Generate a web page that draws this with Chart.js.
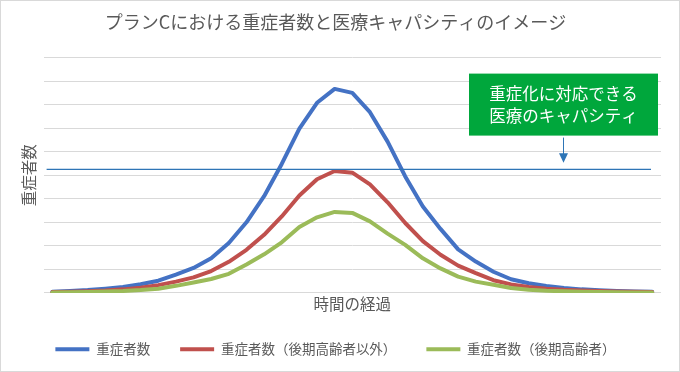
<!DOCTYPE html>
<html>
<head>
<meta charset="utf-8">
<script src="https://cdn.jsdelivr.net/npm/chart.js@4/dist/chart.umd.min.js"></script>
<style>
  html, body { margin: 0; padding: 0; background: #ffffff; }
  #wrap { width: 680px; height: 372px; }
  canvas { display: block; }
</style>
</head>
<body>
<div id="wrap"><canvas id="c" width="680" height="372"></canvas></div>
<script>
const chartTitle = 'プランCにおける重症者数と医療キャパシティのイメージ';
const yAxisTitle = '重症者数';
const xAxisTitle = '時間の経過';
const seriesNames = ['重症者数', '重症者数（後期高齢者以外）', '重症者数（後期高齢者）'];
const calloutLines = ['重症化に対応できる', '医療のキャパシティ'];

const categories = ['1','2','3','4','5','6','7','8','9','10','11','12','13','14','15','16','17','18','19','20','21','22','23','24','25','26','27','28','29','30','31','32','33','34','35'];

const totalSevere = [0.05, 0.08, 0.12, 0.18, 0.25, 0.37, 0.52, 0.78, 1.06, 1.47, 2.12, 3.00, 4.11, 5.48, 6.98, 8.08, 8.67, 8.50, 7.68, 6.43, 4.95, 3.67, 2.72, 1.85, 1.33, 0.90, 0.58, 0.41, 0.29, 0.21, 0.15, 0.11, 0.08, 0.06, 0.05];
const nonElderlySevere = [0.04, 0.05, 0.07, 0.10, 0.15, 0.22, 0.33, 0.48, 0.66, 0.93, 1.32, 1.83, 2.47, 3.25, 4.14, 4.83, 5.18, 5.11, 4.61, 3.85, 2.97, 2.20, 1.62, 1.16, 0.84, 0.54, 0.36, 0.25, 0.18, 0.13, 0.10, 0.08, 0.06, 0.05, 0.04];
const elderlySevere = [0.02, 0.03, 0.04, 0.06, 0.08, 0.12, 0.18, 0.30, 0.44, 0.59, 0.81, 1.21, 1.64, 2.15, 2.80, 3.21, 3.44, 3.40, 3.04, 2.52, 2.04, 1.47, 1.04, 0.69, 0.48, 0.35, 0.21, 0.13, 0.09, 0.07, 0.05, 0.04, 0.03, 0.02, 0.02];

const capacityLevel = 5.25;
const yMin = 0, yMax = 10, yStep = 1;

const FONT = "'Noto Sans CJK JP', 'Noto Sans', sans-serif";
const TEXT = '#595959';
const GRID = '#d9d9d9';

Chart.defaults.font.family = FONT;
Chart.defaults.color = TEXT;

const overlayPlugin = {
  id: 'overlay',
  afterDatasetsDraw(chart) {
    const ctx = chart.ctx;
    const area = chart.chartArea;
    const ys = chart.scales.y;
    const capY = ys.getPixelForValue(capacityLevel);
    ctx.save();
    // capacity line
    ctx.strokeStyle = '#2E75B6';
    ctx.lineWidth = 1.25;
    ctx.beginPath();
    ctx.moveTo(area.left + 3, capY);
    ctx.lineTo(area.right - 10, capY);
    ctx.stroke();
    // callout box
    const bx = area.right - 192, by = area.top + 16, bw = 189, bh = 62;
    ctx.fillStyle = '#00A73C';
    ctx.fillRect(bx, by, bw, bh);
    ctx.fillStyle = '#ffffff';
    ctx.font = '16.5px ' + FONT;
    ctx.textAlign = 'center';
    ctx.textBaseline = 'middle';
    const cx = bx + bw / 2;
    ctx.fillText(calloutLines[0], cx, by + 20.5);
    ctx.fillText(calloutLines[1], cx, by + 42);
    // arrow
    const ax = bx + 94.5;
    ctx.strokeStyle = '#2E75B6';
    ctx.fillStyle = '#2E75B6';
    ctx.lineWidth = 1;
    ctx.beginPath();
    ctx.moveTo(ax, by + bh + 2);
    ctx.lineTo(ax, capY - 14);
    ctx.stroke();
    ctx.beginPath();
    ctx.moveTo(ax - 4.5, capY - 16);
    ctx.lineTo(ax + 4.5, capY - 16);
    ctx.lineTo(ax, capY - 6.5);
    ctx.closePath();
    ctx.fill();
    ctx.restore();
  },
  afterDraw(chart) {
    const ctx = chart.ctx;
    ctx.save();
    ctx.strokeStyle = GRID;
    ctx.lineWidth = 1;
    ctx.strokeRect(0.5, 0.5, chart.width - 1, chart.height - 1);
    ctx.restore();
  }
};

const mk = (label, data, color, order) => ({
  label, data,
  borderColor: color,
  backgroundColor: color,
  borderWidth: 4,
  borderCapStyle: 'round',
  borderJoinStyle: 'round',
  pointRadius: 0,
  pointHoverRadius: 0,
  tension: 0,
  fill: false,
  order
});

new Chart(document.getElementById('c'), {
  type: 'line',
  data: {
    labels: categories,
    datasets: [
      mk(seriesNames[0], totalSevere, '#4472C4', 2),
      mk(seriesNames[1], nonElderlySevere, '#C0504D', 1),
      mk(seriesNames[2], elderlySevere, '#9BBB59', 0)
    ]
  },
  options: {
    responsive: false,
    animation: false,
    events: [],
    layout: { padding: { left: 10, right: 19, top: 0, bottom: 6 } },
    plugins: {
      title: {
        display: true,
        text: chartTitle,
        color: TEXT,
        font: { size: 18, weight: 'normal', family: FONT },
        padding: { top: 11, bottom: 25 }
      },
      legend: {
        position: 'bottom',
        labels: {
          color: TEXT,
          font: { size: 13.5, family: FONT },
          usePointStyle: true,
          pointStyle: 'line',
          pointStyleWidth: 34,
          padding: 30,
          sort: (a, b) => a.datasetIndex - b.datasetIndex
        }
      },
      tooltip: { enabled: false }
    },
    scales: {
      x: {
        offset: true,
        grid: { display: false, drawTicks: false },
        border: { display: false },
        ticks: { display: false },
        title: {
          display: true,
          text: xAxisTitle,
          color: TEXT,
          font: { size: 15.5, family: FONT },
          padding: { top: 2, bottom: -1 }
        }
      },
      y: {
        min: yMin, max: yMax,
        grid: { color: GRID, lineWidth: 1, drawTicks: false },
        border: { display: false },
        ticks: { display: false, stepSize: yStep },
        title: {
          display: true,
          text: yAxisTitle,
          color: TEXT,
          font: { size: 15.5, family: FONT },
          padding: { top: 9.5, bottom: 5.5 }
        }
      }
    }
  },
  plugins: [overlayPlugin]
});
</script>
</body>
</html>
